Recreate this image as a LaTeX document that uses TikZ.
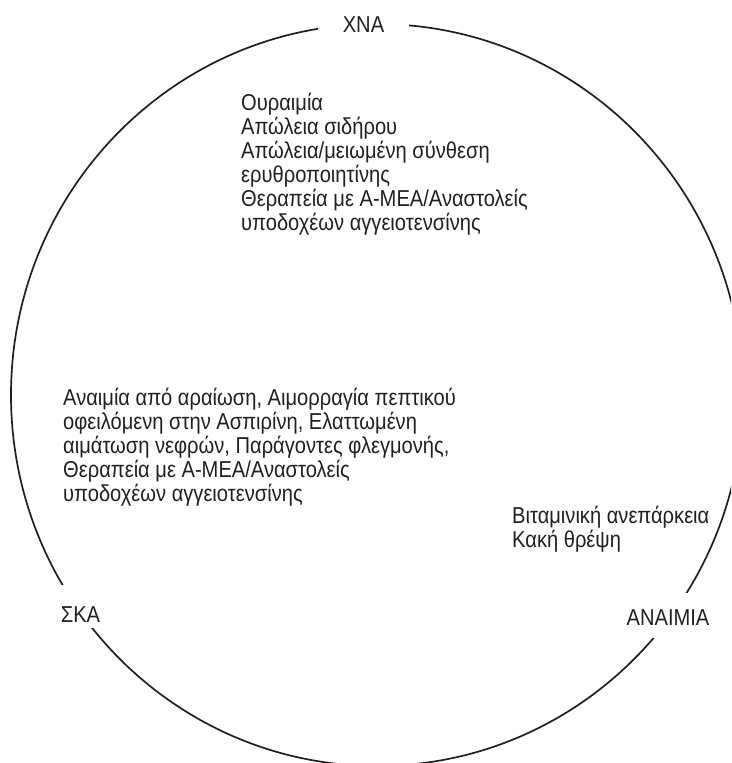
\documentclass[tikz,border=0pt]{standalone}
\usepackage{fontspec}
\setmainfont[FakeStretch=0.875]{Liberation Sans}
\definecolor{ink}{HTML}{231F20}

\tikzset{
  kyklos/.style={draw=ink, line width=1.7pt},
  etiketa/.style={fill=white, inner ysep=0pt, inner xsep=3pt, anchor=base},
  lista/.style={align=left, inner sep=0pt, anchor=base west}
}

\begin{document}
\begin{tikzpicture}[x=1pt, y=-1pt, font=\fontsize{23}{24}\selectfont, text=ink]
    \useasboundingbox (0,0) rectangle (731,763);
    \clip (0,0) rectangle (731,763);

    % Cerchio
    \draw[kyklos] (377,395) ellipse [x radius=366pt, y radius=371pt];

    % Etichette sul cerchio
    \node[etiketa, inner xsep=25pt, text height=20pt, text depth=4pt] (xna) at (363.5,32) {ΧΝΑ};
    \node[etiketa, text height=37pt, text depth=6pt] (ska) at (80.5,622) {ΣΚΑ};
    \node[etiketa, text height=32pt, text depth=13pt] (anaimia) at (668,625) {ΑΝΑΙΜΙΑ};

    % Testi (ancorati all'ultima riga)
    \node[lista] (xnalist) at (241,230) {Ουραιμία\\Απώλεια σιδήρου\\Απώλεια/μειωμένη σύνθεση\\ερυθροποιητίνης\\Θεραπεία με Α-ΜΕΑ/Αναστολείς\\υποδοχέων αγγειοτενσίνης};
    \node[lista] (skalist) at (63,501) {Αναιμία από αραίωση, Αιμορραγία πεπτικού\\οφειλόμενη στην Ασπιρίνη, Ελαττωμένη\\αιμάτωση νεφρών, Παράγοντες φλεγμονής,\\Θεραπεία με Α-ΜΕΑ/Αναστολείς\\υποδοχέων αγγειοτενσίνης};
    \node[lista] (anaimialist) at (512,547) {Βιταμινική ανεπάρκεια\\Κακή θρέψη};
\end{tikzpicture}
\end{document}
